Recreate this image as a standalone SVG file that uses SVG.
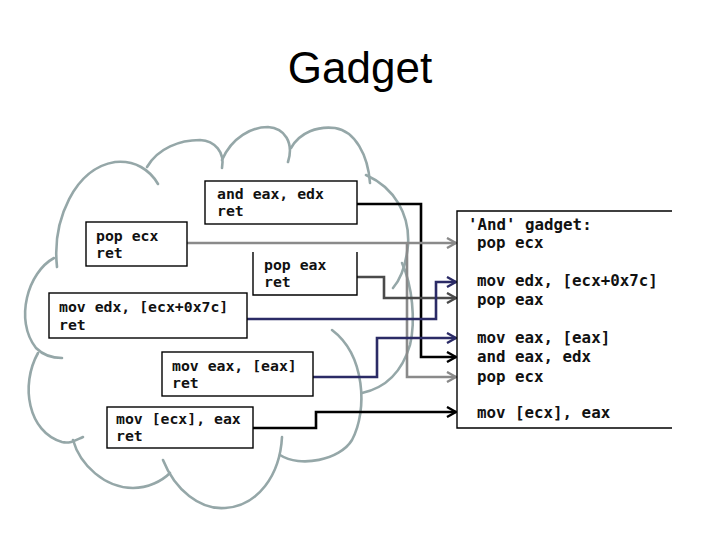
<svg xmlns="http://www.w3.org/2000/svg" width="720" height="540" viewBox="0 0 720 540">
<style>
.title{font-family:"Liberation Sans",Arial,sans-serif;font-size:44px;fill:#000}
.cloud path{fill:none;stroke:#95a7a8;stroke-width:2.6;stroke-linecap:round}
.box{fill:#fff;stroke:#000;stroke-width:1.4}
.code{font-family:"DejaVu Sans Mono",monospace;font-weight:bold;font-size:14.8px;fill:#111}
.code2{font-family:"DejaVu Sans Mono",monospace;font-weight:bold;font-size:15.8px;fill:#111}
.c{fill:none;stroke-width:2.6}
.k{stroke:#000}
.g{stroke:#8a8a8a}
.d{stroke:#4a4a4a}
.n{stroke:#2b2b66}
</style>
<defs>
<marker id="ak" viewBox="0 0 12 12" markerWidth="12" markerHeight="12" refX="11" refY="6" orient="auto" markerUnits="userSpaceOnUse"><path d="M2,1 L11,6 L2,11" fill="none" stroke="#000" stroke-width="2.4"/></marker>
<marker id="ag" viewBox="0 0 12 12" markerWidth="12" markerHeight="12" refX="11" refY="6" orient="auto" markerUnits="userSpaceOnUse"><path d="M2,1 L11,6 L2,11" fill="none" stroke="#8a8a8a" stroke-width="2.4"/></marker>
<marker id="ad" viewBox="0 0 12 12" markerWidth="12" markerHeight="12" refX="11" refY="6" orient="auto" markerUnits="userSpaceOnUse"><path d="M2,1 L11,6 L2,11" fill="none" stroke="#4a4a4a" stroke-width="2.4"/></marker>
<marker id="an" viewBox="0 0 12 12" markerWidth="12" markerHeight="12" refX="11" refY="6" orient="auto" markerUnits="userSpaceOnUse"><path d="M2,1 L11,6 L2,11" fill="none" stroke="#2b2b66" stroke-width="2.4"/></marker>
</defs>
<rect width="720" height="540" fill="#fff"/>
<text class="title" x="360" y="83" text-anchor="middle">Gadget</text>

<g id="cloud" class="cloud">
<path d="M57,267 C52,220 75,168 115,162 C135,160 150,170 158,184"/>
<path d="M147,167 C158,148 180,140 200,140 C215,141 225,152 222,168"/>
<path d="M222,160 C232,137 252,127 268,127 C285,128 294,143 288,162"/>
<path d="M291,148 C300,132 318,126 335,128 C355,131 368,155 370,183"/>
<path d="M366,175 C395,188 410,215 408,245 C406,265 400,280 393,288"/>
<path d="M402,263 C412,285 416,320 410,345 C402,372 385,388 362,393"/>
<path d="M332,330 C365,355 368,410 352,440 C340,460 300,468 280,455"/>
<path d="M282,437 C280,475 258,506 225,508 C200,510 175,490 163,460"/>
<path d="M170,473 C162,481 148,488 133,488 C105,488 80,465 73,440"/>
<path d="M83,437 C76,440 70,444 62,442 C28,432 20,385 38,353"/>
<path d="M62,358 C54,358 44,356 36,348 C14,320 28,272 54,258"/>
</g>

<g id="connectors">
<path class="c k" d="M357,204 H421 V357 H456" marker-end="url(#ak)"/>
<path class="c g" d="M187,243 H456" marker-end="url(#ag)"/>
<path class="c g" d="M407,243 V377 H456" marker-end="url(#ag)"/>
<path class="c d" d="M357,277 H384 V298 H456" marker-end="url(#ad)"/>
<path class="c n" d="M247,319 H436 V282 H456" marker-end="url(#an)"/>
<path class="c n" d="M313,377 H377 V338 H456" marker-end="url(#an)"/>
<path class="c k" d="M253,428 H316 V412 H456" marker-end="url(#ak)"/>
</g>

<g id="g-and">
<rect class="box" x="205" y="181" width="152" height="43"/>
<text class="code" x="217" y="199">and eax, edx</text>
<text class="code" x="217" y="216">ret</text>
</g>
<g id="g-popecx">
<rect class="box" x="86" y="222" width="101" height="44"/>
<text class="code" x="96" y="241">pop ecx</text>
<text class="code" x="96" y="258">ret</text>
</g>
<g id="g-popeax">
<rect x="253" y="252" width="104" height="43" fill="#fff"/>
<path class="box" fill="none" d="M253,252 V295 H357 V252"/>
<text class="code" x="264" y="270">pop eax</text>
<text class="code" x="264" y="287">ret</text>
</g>
<g id="g-movedx">
<rect class="box" x="49" y="293" width="198" height="45"/>
<text class="code" x="59" y="312">mov edx, [ecx+0x7c]</text>
<text class="code" x="59" y="330">ret</text>
</g>
<g id="g-moveax">
<rect class="box" x="162" y="352" width="151" height="44"/>
<text class="code" x="172" y="371">mov eax, [eax]</text>
<text class="code" x="172" y="388">ret</text>
</g>
<g id="g-movecx">
<rect class="box" x="107" y="407" width="146" height="41"/>
<text class="code" x="116" y="424">mov [ecx], eax</text>
<text class="code" x="116" y="441">ret</text>
</g>
<g id="g-gadget">
<path d="M672,211 H457 V428 H672" fill="#fff" stroke="#000" stroke-width="1.4"/>
<text class="code2" x="468" y="230">'And' gadget:</text>
<text class="code2" x="477" y="248">pop ecx</text>
<text class="code2" x="477" y="286">mov edx, [ecx+0x7c]</text>
<text class="code2" x="477" y="305">pop eax</text>
<text class="code2" x="477" y="343">mov eax, [eax]</text>
<text class="code2" x="477" y="362">and eax, edx</text>
<text class="code2" x="477" y="382">pop ecx</text>
<text class="code2" x="477" y="418">mov [ecx], eax</text>
</g>
</svg>
